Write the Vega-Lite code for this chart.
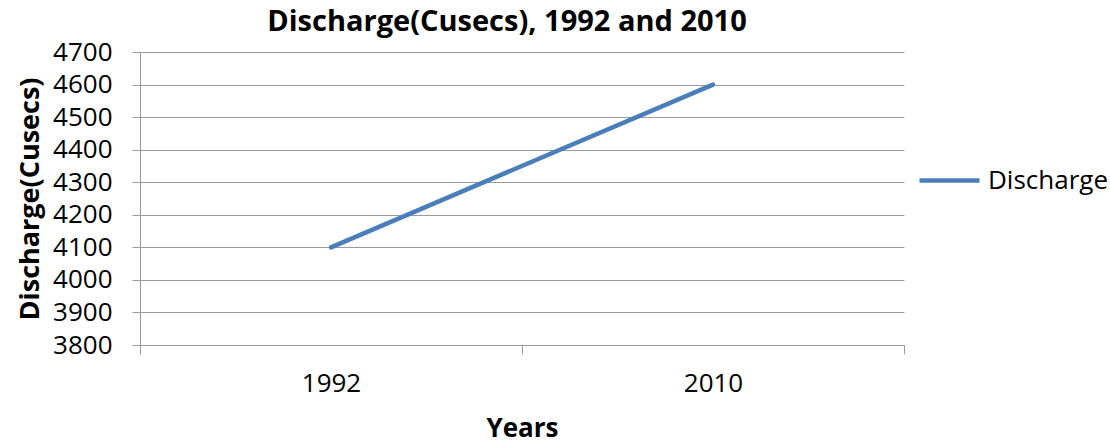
{
  "$schema": "https://vega.github.io/schema/vega-lite/v6.json",
  "width": 764,
  "height": 293,
  "autosize": {"type": "none"},
  "padding": {"left": 140, "top": 52, "right": 206, "bottom": 99},
  "background": "white",
  "config": {
    "view": {"stroke": null},
    "font": "Open Sans"
  },
  "title": {
    "text": "Discharge(Cusecs), 1992 and 2010",
    "fontSize": 29,
    "fontWeight": "bold",
    "font": "Open Sans",
    "color": "#000000",
    "anchor": "middle",
    "offset": 2,
    "dx": -15
  },
  "data": {
    "values": [
      {"Years": "1992", "Discharge": 4100, "Series": "Discharge"},
      {"Years": "2010", "Discharge": 4600, "Series": "Discharge"}
    ]
  },
  "mark": {"type": "line", "strokeWidth": 4.5, "strokeCap": "round"},
  "encoding": {
    "x": {
      "field": "Years",
      "type": "ordinal",
      "bandPosition": 0.5,
      "scale": {"type": "band", "paddingInner": 0, "paddingOuter": 0},
      "axis": {
        "title": "Years",
        "titleFontSize": 26,
        "titleFontWeight": "bold",
        "titleColor": "#000000",
        "titlePadding": 19,
        "labelAngle": 0,
        "labelFontSize": 26,
        "labelColor": "#000000",
        "labelPadding": 16,
        "tickBand": "extent",
        "tickSize": 9,
        "tickColor": "#9a9a9a",
        "domainColor": "#9a9a9a",
        "grid": false
      }
    },
    "y": {
      "field": "Discharge",
      "type": "quantitative",
      "scale": {"domain": [3800, 4700], "nice": false, "zero": false},
      "axis": {
        "title": "Discharge(Cusecs)",
        "titleFontSize": 27,
        "titleFontWeight": "bold",
        "titleColor": "#000000",
        "titlePadding": 8,
        "values": [3800, 3900, 4000, 4100, 4200, 4300, 4400, 4500, 4600, 4700],
        "labelFontSize": 26,
        "labelColor": "#000000",
        "labelPadding": 20,
        "tickSize": 8,
        "tickColor": "#9a9a9a",
        "domainColor": "#9a9a9a",
        "grid": true,
        "gridColor": "#9a9a9a",
        "gridOpacity": 1,
        "format": "d"
      }
    },
    "color": {
      "field": "Series",
      "type": "nominal",
      "scale": {"range": ["#4a7ebb"]},
      "legend": {
        "title": null,
        "orient": "none",
        "legendX": 777,
        "legendY": 96,
        "symbolType": "stroke",
        "symbolSize": 3600,
        "symbolStrokeWidth": 4.5,
        "labelFontSize": 26,
        "labelColor": "#000000",
        "labelOffset": 6
      }
    }
  }
}
